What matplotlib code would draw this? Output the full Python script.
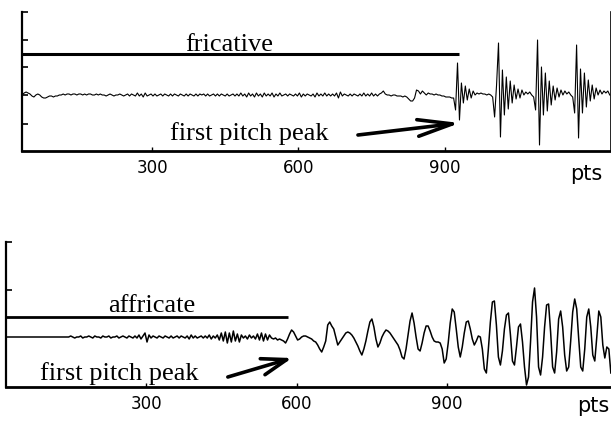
import numpy as np
import matplotlib.pyplot as plt

# sample spacing (pts) and first sample of each trace
step = 4
fric_start = 34
affr_start = 22

# fricative trace, amplitude in screen units, one value every 4 pts
fricative = [
    0, 2, 3, 2, 1, -1, -2, 0, 1, 0, -2, -3, -3, -2, -1, -1, -2, -1, -1, 0,
    0, 1, 0, 1, 1, 0, 1, 1, 0, 1, 1, 0, 1, 0, 1, 1, 0, 0, 1, 0,
    1, 0, 0, -1, 0, 1, 0, -1, 0, 0, 1, 0, -1, 0, 1, -1, 1, 0, -1, 2,
    -1, 1, -2, 2, -1, 0, 1, -1, 1, -1, 0, 1, -1, 1, 0, -1, 1, -1, 1, 0,
    -1, 1, 0, -1, 1, -1, 1, 0, -1, 1, -1, 1, 0, 1, -1, 1, -1, 0, 1, -1,
    1, -1, 1, 0, -1, 1, -1, 0, 1, -1, 1, -1, 2, -1, 1, -2, 2, -1, 1, -2,
    2, -1, 1, -2, 2, -1, 1, -1, 2, -2, 1, -1, 2, -1, 0, 1, -1, 1, 0, -1,
    1, -1, 2, -2, 1, -1, 1, 0, -1, 1, -2, 2, -1, 1, -1, 2, -1, 1, -1, 1,
    -1, 2, -3, 3, -1, 1, 0, -1, 1, -1, 1, 0, -1, 1, -1, 2, -1, 1, -1, 2,
    -1, 1, -1, 1, 2, 4, 1, 0, 0, -1, 0, 0, -1, -1, -1, -2, -1, -2, -4, -6,
    -6, -3, 5, 4, 1, 4, 2, 0, 2, 1, 1, 0, 1, 0, 0, -1, -1, -2, -2, -2,
    -3, -3, -15, 32, -25, 12, -8, 9, -5, 6, -3, 4, 0, 2, 1, 2, 1, 1, 0, 1,
    0, -2, -22, 10, 52, -42, 25, -20, 18, -14, 14, -8, 10, -4, 6, -3, 5, 0, 3, 1,
    3, 0, -2, -15, 55, -50, 28, -20, 22, -16, 14, -10, 9, -5, 7, -2, 5, 0, 4, 1,
    3, 0, -2, -18, 50, -43, 26, -18, 22, -12, 15, -6, 10, -4, 7, 0, 5, 1, 4, 2,
    4, 0,
]

# affricate trace, same spacing
affricate = [
    0, 0, 0, 0, 0, 0, 0, 0, 0, 0, 0, 0, 0, 0, 0, 0, 0, 0, 0, 0,
    0, 0, 0, 0, 0, 0, 0, 0, 0, 0, 0, 0, 1, 0, -1, 0, 0, 1, -1, 0,
    0, 1, 0, -1, 1, 0, 0, -1, 1, 0, 0, 1, -1, 0, 0, 1, -1, 0, 1, 0,
    -1, 1, 0, -1, 1, -1, 2, -2, 1, 4, -5, 2, -1, 1, 0, -1, 1, 0, -1, 1,
    0, -1, 1, -1, 0, 1, -1, 1, 0, -1, 1, -2, 2, -1, 1, -1, 0, 1, -1, 1,
    -1, 2, -2, 1, -1, 2, -3, 4, -4, 5, -6, 4, -5, 6, -4, 3, -5, 2, -1, 1,
    -2, 2, -1, 1, -2, 3, -3, 4, -4, 3, -3, 2, -1, -2, -1, -3, -2, -3, -4, -6,
    -2, 3, 7, 5, 1, -3, -2, 0, 1, 1, 0, -1, -2, -4, -5, -8, -12, -15, -10, -4,
    12, 15, 11, 8, 0, -8, -5, -2, 1, 4, 5, 4, 2, -1, -5, -9, -14, -18, -12, -4,
    6, 15, 18, 10, -2, -10, -6, 0, 4, 7, 6, 4, 1, -2, -5, -8, -13, -20, -22, -12,
    2, 16, 24, 14, 0, -12, -14, -6, 4, 11, 11, 6, 0, -4, -5, -5, -6, -12, -26, -22,
    -6, 14, 28, 25, 8, -10, -20, -10, 4, 15, 16, 8, -2, -8, -4, 1, 0, -12, -32, -36,
    -12, 15, 35, 36, 12, -20, -28, -14, 8, 22, 24, 2, -24, -28, -10, 10, 13, -5, -30, -48,
    -40, -5, 35, 49, 20, -30, -38, -20, 10, 32, 33, 5, -30, -36, -15, 18, 26, 10, -18, -34,
    -30, -4, 25, 38, 28, -2, -30, -34, -12, 20, 28, 10, -18, -24, 0, 26, 20, -8, -21, -10,
    -12, -36,
]

tick_pts = [300, 600, 900]
tick_labels = ['300', '600', '900']

fric_x = fric_start + step * np.arange(len(fricative))
affr_x = affr_start + step * np.arange(len(affricate))

W, H = 611, 422
fig = plt.figure(figsize=(W / 100, H / 100), dpi=100)

serif = ['Liberation Serif', 'DejaVu Serif']


def frame(ax, yticks, right=False):
    for side in ['top', 'right']:
        ax.spines[side].set_visible(False)
    if right:
        ax.spines['right'].set_visible(True)
        ax.spines['right'].set_linewidth(1.2)
    ax.spines['bottom'].set_linewidth(2.0)
    ax.spines['left'].set_linewidth(1.6)
    ax.set_xticks(tick_pts)
    ax.set_xticklabels(tick_labels)
    ax.set_yticks(yticks)
    ax.set_yticklabels([])
    ax.tick_params(axis='x', direction='in', length=3, width=1, pad=6,
                   labelsize=12)
    ax.tick_params(axis='y', direction='in', length=4, width=1.2)
    ax.patch.set_alpha(0)


# upper panel: fricative
ax1 = fig.add_axes([22 / W, (H - 151) / H, 589 / W, 139 / H])
ax1.plot(fric_x, fricative, color='black', lw=0.8)
ax1.set_xlim(33.6, 1240.5)
ax1.set_ylim(-56, 83)
frame(ax1, [83, 55, 28, 0, -29], right=True)
ax1.plot([34, 929], [41.5, 41.5], color='black', lw=2.2, solid_capstyle='butt')
ax1.text(458, 44, 'fricative', family=serif, fontsize=19, ha='center',
         va='baseline')
ax1.text(337, -45, 'first pitch peak', family=serif, fontsize=19, ha='left',
         va='baseline')
ax1.annotate('', xy=(931, -28), xytext=(722, -40),
             arrowprops=dict(arrowstyle='->, head_length=1.25, head_width=0.3',
                             mutation_scale=20, lw=2.6, color='black',
                             shrinkA=0, shrinkB=0))

# lower panel: affricate
ax2 = fig.add_axes([6 / W, (H - 387) / H, 605 / W, 145 / H])
ax2.plot(affr_x, affricate, color='black', lw=1.1)
ax2.set_xlim(21.1, 1226.3)
ax2.set_ylim(-50, 95)
frame(ax2, [95, 47])
ax2.plot([21.1, 583], [20, 20], color='black', lw=2.0, solid_capstyle='butt')
ax2.text(312, 25, 'affricate', family=serif, fontsize=19, ha='center',
         va='baseline')
ax2.text(89, -43, 'first pitch peak', family=serif, fontsize=19, ha='left',
         va='baseline')
ax2.annotate('', xy=(591, -21), xytext=(463, -40),
             arrowprops=dict(arrowstyle='->, head_length=0.9, head_width=0.3',
                             mutation_scale=20, lw=2.6, color='black',
                             shrinkA=0, shrinkB=0))

# axis unit labels
fig.text(586 / W, 1 - 180 / H, 'pts', fontsize=15, ha='center', va='baseline')
fig.text(593 / W, 1 - 412 / H, 'pts', fontsize=15, ha='center', va='baseline')

fig.savefig('out.png', dpi=100)
